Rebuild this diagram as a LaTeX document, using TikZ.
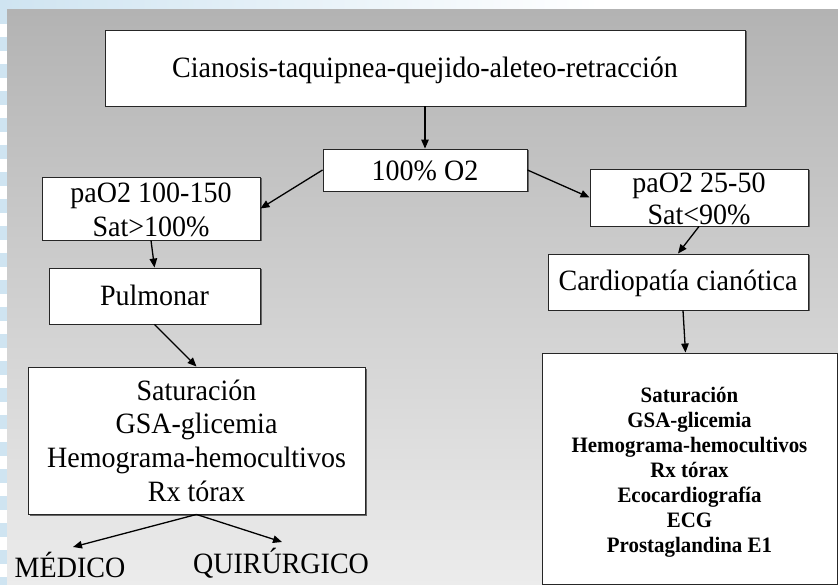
\documentclass[tikz,border=0pt]{standalone}
\usepackage{fontspec}
\setmainfont{Liberation Serif}[FakeStretch=0.95]
\usetikzlibrary{shadows,arrows.meta}
\definecolor{stripblue}{HTML}{CFE4F1}
\definecolor{bgtop}{HTML}{B3B3B3}
\definecolor{bgbot}{HTML}{ECECEC}
\tikzset{
  boxframe/.style={draw=black!85, line width=0.9pt, fill=white, inner sep=0pt,
    drop shadow={shadow xshift=1.5pt, shadow yshift=-1.5pt, fill=black!60, opacity=1}},
  lbl/.style={font=\fontsize{29.5}{33.5}\selectfont, inner sep=0pt, anchor=base},
  blbl/.style={font=\fontsize{22}{25}\selectfont\bfseries, inner sep=0pt, anchor=base},
  conn/.style={draw=black, line width=1.3pt, -{Triangle[length=9pt,width=7.5pt]}},
}
\begin{document}
\begin{tikzpicture}[x=1pt,y=-1pt]
\useasboundingbox (0,0) rectangle (838,585);
% background
\fill[white] (0,0) rectangle (838,585);
\shade[left color=stripblue, right color=white] (0,0) rectangle (600,10);
\draw[stripblue, line width=7pt, dash pattern=on 14pt off 13pt] (3.5,10) -- (3.5,585);
\shade[top color=bgtop, bottom color=bgbot] (7,10) rectangle (838,585);

% boxes
\node[boxframe, minimum width=640pt, minimum height=76pt] (top) at (425,68) {};
\node[boxframe, minimum width=204pt, minimum height=42pt] (o2) at (425,170) {};
\node[boxframe, minimum width=218pt, minimum height=63pt] (left1) at (151,208.5) {};
\node[boxframe, minimum width=211pt, minimum height=56pt] (pulm) at (154.5,296) {};
\node[boxframe, minimum width=337pt, minimum height=147pt] (leftbig) at (196.5,440.5) {};
\node[boxframe, minimum width=218pt, minimum height=57pt] (right1) at (699,197.5) {};
\node[boxframe, minimum width=260pt, minimum height=56pt] (cardio) at (678,282) {};
\node[boxframe, minimum width=295pt, minimum height=231pt] (rightbig) at (689.5,468.5) {};

% texts
\node[lbl] (ttop) at (425,78) {Cianosis-taquipnea-quejido-aleteo-retracción};
\node[lbl] (to2) at (425,181) {100\% O2};
\node[lbl] (tl1a) at (151,203) {paO2 100-150};
\node[lbl] (tl1b) at (151,237) {Sat>100\%};
\node[lbl] (tpulm) at (154.5,306) {Pulmonar};
\node[lbl] (tr1a) at (699,193) {paO2 25-50};
\node[lbl] (tr1b) at (699,225) {Sat<90\%};
\node[lbl] (tcard) at (678,291) {Cardiopatía cianótica};
\foreach \t [count=\i] in {Saturación, GSA-glicemia, Hemograma-hemocultivos, Rx tórax}
  \node[lbl] (lt\i) at (196.5,{400+(\i-1)*33.7}) {\t};
\foreach \t [count=\i] in {Saturación, GSA-glicemia, Hemograma-hemocultivos, Rx tórax, Ecocardiografía, ECG, Prostaglandina E1}
  \node[blbl] (rt\i) at (689.5,{402+(\i-1)*25}) {\t};
\node[lbl] (medico) at (70,577) {MÉDICO};
\node[lbl] (quir) at (281,573) {QUIRÚRGICO};

% connectors
\coordinate (mtip) at (73,547);
\coordinate (qtip) at (282,542);
\draw[conn] (top.south) -- (o2.north);
\draw[conn] (o2.west) -- (left1.east);
\draw[conn] (o2.east) -- (right1.west);
\draw[conn] (left1.south) -- (pulm.north);
\draw[conn] (pulm.south) -- (leftbig.north);
\draw[conn] (right1.south) -- (cardio.north);
\draw[conn] ([xshift=5pt]cardio.south) -- ([xshift=-4pt]rightbig.north);
\draw[conn] (leftbig.south) -- (mtip);
\draw[conn] (leftbig.south) -- (qtip);
\end{tikzpicture}
\end{document}
